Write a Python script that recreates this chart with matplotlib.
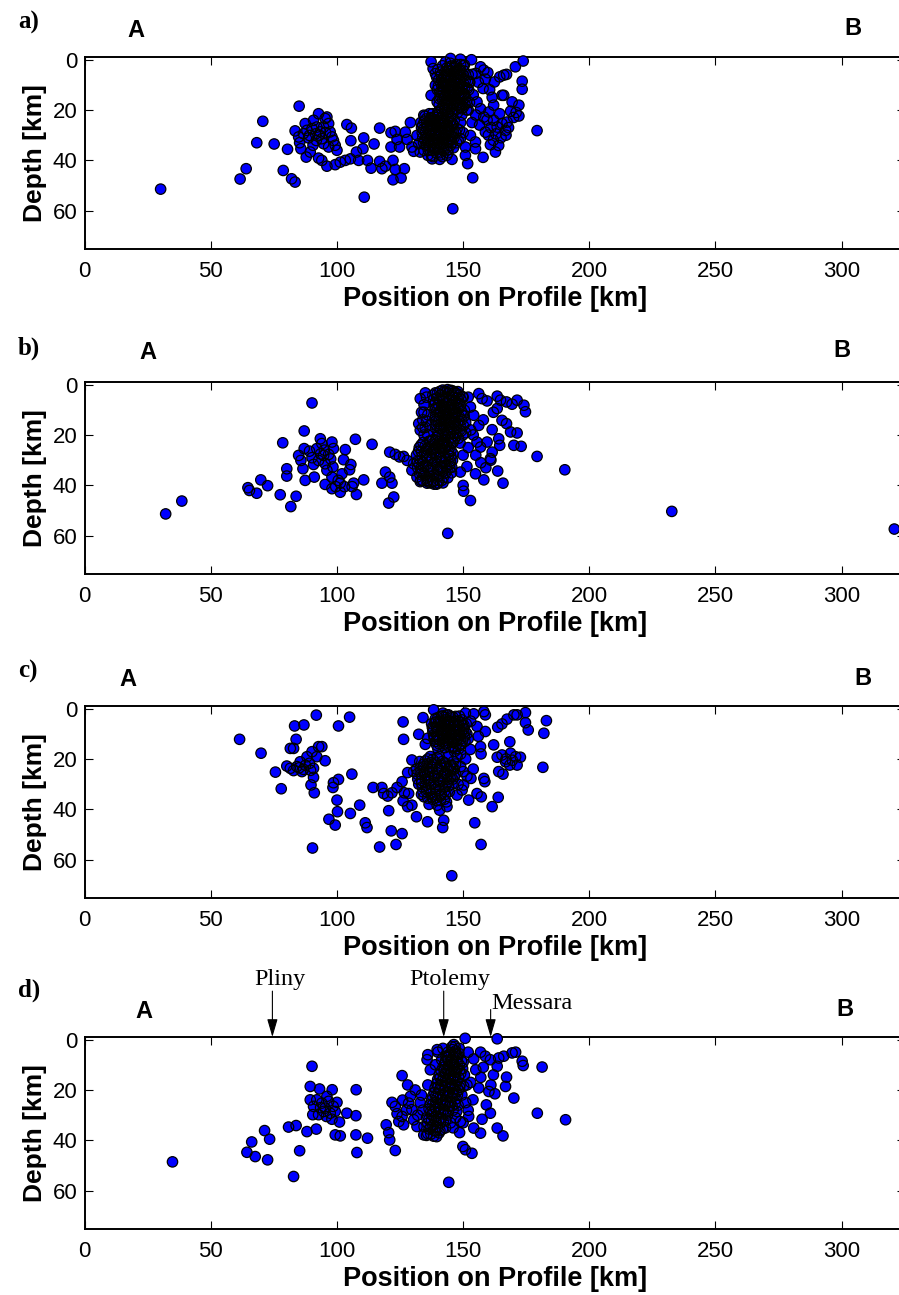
import numpy as np
import matplotlib
matplotlib.use("Agg")
import matplotlib.pyplot as plt

plt.rcParams['font.family'] = ['Liberation Sans', 'DejaVu Sans']

# earthquake hypocentres: (position on profile [km], depth [km])
quakes_a = [
    (30.1, 51.4), (61.6, 47.4), (64.0, 43.3), (68.2, 33.0), (70.6, 24.5), (75.1, 33.5), (78.7, 44.0),
    (80.4, 35.6), (82.0, 47.3), (83.4, 48.6), (85.0, 18.5),
    (83.4, 28.3), (84.8, 30.7), (85.2, 33.0), (85.7, 35.4), (87.4, 25.4), (88.1, 28.1), (88.7, 31.1),
    (87.8, 38.7), (89.4, 36.7), (90.5, 34.0), (90.7, 24.1), (92.0, 26.8), (92.7, 21.5), (93.4, 28.7),
    (94.0, 31.4), (94.7, 26.8), (95.3, 23.4), (96.0, 22.8), (96.7, 25.4), (97.3, 28.7), (98.0, 30.7),
    (98.6, 32.1), (99.3, 34.0), (100.0, 36.0), (92.7, 39.1), (94.0, 40.0), (96.0, 42.3), (91.8, 32.1),
    (90.1, 27.4), (86.7, 29.4), (89.1, 30.1), (94.7, 33.4), (96.7, 34.7), (93.0, 30.0), (95.5, 29.0),
    (91.5, 29.5),
    (99.3, 41.7), (101.3, 40.7), (103.3, 40.0), (105.3, 39.4), (107.7, 36.7), (108.6, 40.0), (103.9, 25.8),
    (105.7, 27.2), (105.5, 32.2), (110.6, 31.1), (110.3, 35.4), (112.1, 40.0), (113.5, 43.1), (114.7, 33.5),
    (110.8, 54.6), (116.9, 27.2), (116.9, 40.4), (117.8, 43.3), (119.2, 42.3), (122.2, 40.0), (123.1, 43.6),
    (126.7, 43.3), (122.2, 47.7), (125.4, 47.0), (121.4, 29.0), (123.1, 28.5), (121.4, 34.7), (123.8, 31.7),
    (124.8, 34.7), (127.1, 28.8), (127.8, 31.7), (129.1, 25.0), (129.7, 34.7), (130.4, 36.4), (131.7, 30.1),
    (132.4, 33.4), (133.0, 36.7), (134.4, 22.1), (137.7, 39.4), (140.7, 39.6), (145.6, 39.6), (145.9, 59.2),
    (150.9, 38.0), (151.8, 41.3), (153.8, 46.9), (157.9, 38.8),
    (137.3, 0.9), (138.1, 3.6), (139.0, 5.6), (137.3, 14.2), (139.0, 10.2), (139.7, 16.8), (145.0, -0.4),
    (148.9, -0.1), (153.3, 0.1), (143.6, 3.3), (147.3, 2.9), (150.5, 2.2), (153.5, 5.9), (156.9, 2.9),
    (158.2, 4.2), (159.8, 5.2), (157.9, 11.5), (158.8, 7.8), (162.4, 8.9), (164.5, 6.9), (166.1, 6.2),
    (167.2, 5.9), (170.7, 2.9), (173.8, 0.6), (173.4, 8.6), (173.4, 11.8), (165.4, 14.2), (166.1, 14.2),
    (162.1, 18.1), (169.4, 16.8), (172.1, 18.1), (172.1, 22.4), (168.8, 20.5), (164.5, 21.5), (155.5, 16.8),
    (156.9, 19.5), (158.2, 22.8), (160.2, 20.8), (162.1, 24.1), (163.5, 26.8), (165.4, 25.4), (166.8, 28.1),
    (167.4, 24.8), (158.8, 28.8), (160.8, 33.8), (162.8, 36.7), (164.1, 34.1), (179.3, 28.2), (154.9, 32.7),
    (152.9, 30.1), (150.9, 34.7), (148.9, 31.4), (147.6, 27.4), (154.9, 35.4),
    (159.5, 24.0), (161.0, 27.0), (163.0, 29.5), (165.0, 31.0), (167.0, 30.0), (168.0, 27.0), (170.0, 23.0),
    (171.0, 21.0), (160.0, 30.0), (162.0, 32.0), (156.5, 26.0), (155.0, 22.0), (153.5, 25.0), (152.0, 20.0),
    (154.0, 14.0), (156.0, 9.0), (155.0, 5.5), (152.5, 9.0), (160.5, 12.0), (161.5, 15.0),
    # dense upper swarm
    (139.5, 7.0), (140.2, 10.5), (140.8, 13.0), (141.5, 8.0), (141.9, 16.0), (142.3, 11.0), (142.8, 5.0),
    (143.1, 14.0), (143.6, 18.0), (144.0, 9.0), (144.4, 12.5), (144.8, 6.0), (145.2, 16.0), (145.6, 20.0),
    (146.0, 10.0), (146.3, 3.5), (146.7, 13.5), (147.1, 7.5), (147.5, 18.0), (147.9, 11.0), (148.3, 15.0),
    (148.6, 4.5), (149.0, 9.0), (149.4, 13.0), (149.8, 17.5), (150.2, 6.5), (150.6, 11.0), (151.0, 15.0),
    (151.4, 20.0), (151.8, 8.5), (142.0, 19.0), (143.9, 21.0), (145.0, 8.0), (146.5, 17.0), (147.8, 21.0),
    (148.8, 19.0), (150.0, 2.5), (141.0, 5.0), (144.6, 3.0), (149.5, 22.0), (152.2, 12.0), (152.5, 17.0),
    (140.5, 18.0), (143.5, 7.0), (146.8, 9.0), (145.5, 12.0), (148.0, 7.0), (150.5, 14.0), (142.6, 15.0),
    (144.2, 17.5), (147.3, 2.0),
    (139.8, 12.0), (140.0, 4.0), (140.6, 15.5), (141.2, 9.5), (141.6, 12.5), (141.8, 2.5), (142.4, 7.0),
    (142.9, 17.0), (143.3, 10.0), (143.7, 4.5), (144.1, 14.5), (144.6, 19.5), (145.0, 10.5), (145.3, 4.5),
    (145.7, 14.0), (146.1, 18.5), (146.4, 6.0), (146.9, 15.5), (147.2, 10.0), (147.6, 13.0), (147.9, 4.5),
    (148.2, 17.0), (148.5, 12.0), (148.9, 6.0), (149.2, 15.5), (149.6, 10.5), (150.0, 19.0), (150.3, 13.5),
    (150.8, 8.5), (151.2, 17.0), (151.6, 11.5), (152.0, 6.0), (140.3, 8.0), (142.7, 20.0), (145.9, 21.5),
    (149.0, 2.0), (143.0, 1.0), (141.4, 19.5), (144.9, 1.5), (152.6, 9.0),
    (141.3, 6.3), (141.7, 10.8), (142.1, 14.2), (142.5, 17.8), (142.9, 8.4), (143.3, 12.1), (143.6, 15.6),
    (144.0, 6.7), (144.3, 10.2), (144.7, 13.9), (145.1, 17.2), (145.4, 7.1), (145.8, 10.9), (146.1, 14.6),
    (146.5, 4.8), (146.9, 11.8), (147.2, 16.3), (147.6, 5.9), (148.0, 9.3), (148.4, 13.4), (148.7, 17.9),
    (149.1, 7.4), (149.5, 11.2), (149.9, 15.9), (150.3, 9.8), (150.7, 17.8), (142.2, 9.6), (143.9, 19.4),
    (145.3, 2.6), (146.2, 8.5), (147.4, 19.7), (148.9, 4.1), (150.4, 4.6), (144.5, 16.4), (141.0, 14.6),
    (143.2, 5.8), (147.9, 14.2), (149.3, 19.5), (146.0, 12.2), (144.9, 12.0),
    # dense lower swarm
    (133.2, 25.0), (133.8, 29.0), (134.3, 33.0), (134.9, 22.5), (135.4, 27.0), (135.8, 31.0), (136.2, 36.0),
    (136.7, 24.0), (137.1, 28.5), (137.5, 33.0), (137.9, 21.5), (138.3, 26.0), (138.7, 30.0), (139.0, 35.0),
    (139.4, 23.0), (139.8, 27.5), (140.2, 32.0), (140.6, 37.0), (141.0, 25.0), (141.4, 29.0), (141.8, 33.5),
    (142.2, 22.0), (142.6, 27.0), (143.0, 31.0), (143.4, 35.0), (143.8, 24.5), (144.2, 28.5), (144.6, 32.5),
    (145.0, 22.5), (145.4, 26.5), (145.8, 30.5), (146.2, 35.0), (136.0, 38.0), (138.0, 38.5), (134.5, 36.0),
    (137.8, 23.5), (140.0, 21.0), (143.0, 20.0), (146.5, 24.0), (147.0, 29.0), (148.0, 32.0), (149.0, 25.0),
    (150.0, 29.0), (135.5, 34.0), (139.5, 31.0), (141.2, 35.5), (144.0, 37.0), (142.0, 24.0), (139.0, 28.0),
    (133.5, 27.0), (134.0, 31.0), (134.6, 24.5), (135.1, 29.0), (135.6, 25.0), (136.0, 33.0), (136.5, 28.0),
    (136.9, 31.5), (137.3, 26.5), (137.7, 36.0), (138.1, 31.5), (138.5, 24.0), (138.9, 33.0), (139.2, 26.0),
    (139.6, 29.5), (140.0, 35.0), (140.4, 25.5), (140.8, 30.5), (141.2, 23.0), (141.6, 27.0), (142.0, 31.5),
    (142.4, 36.0), (142.8, 24.5), (143.2, 29.0), (143.6, 33.0), (144.0, 26.5), (144.4, 30.5), (144.8, 24.5),
    (145.2, 28.5), (145.6, 33.0), (146.0, 26.0), (146.4, 31.0), (147.4, 33.0), (148.5, 28.0), (136.6, 21.5),
    (139.8, 22.0), (143.5, 38.0), (137.5, 38.0), (134.0, 26.0), (141.8, 38.5),
    (134.2, 27.8), (134.8, 31.6), (135.3, 23.6), (135.9, 26.4), (136.4, 29.7), (136.8, 34.4), (137.2, 23.1),
    (137.7, 27.7), (138.2, 32.6), (138.6, 22.8), (139.1, 29.2), (139.5, 33.9), (139.9, 24.6), (140.4, 28.4),
    (140.8, 33.3), (141.3, 26.2), (141.7, 31.1), (142.1, 35.1), (142.5, 25.4), (142.9, 29.8), (143.3, 26.2),
    (143.7, 31.6), (144.1, 23.7), (144.5, 27.4), (144.9, 34.1), (145.3, 31.7), (145.7, 25.3), (136.1, 31.9),
    (138.4, 35.3), (140.1, 30.1), (142.3, 33.2), (143.9, 35.7), (137.5, 30.3), (139.3, 37.0), (141.1, 37.8),
    (135.0, 33.9), (146.1, 29.1), (138.8, 25.3), (141.9, 22.9), (144.3, 31.8),
]

quakes_b = [
    (32.1, 51.3), (38.5, 46.2), (64.7, 40.9), (65.3, 42.0), (68.2, 43.1), (69.8, 37.8), (72.5, 40.1),
    (77.5, 43.7), (78.5, 23.1), (80.1, 33.4), (80.1, 36.3), (81.7, 48.4), (83.8, 44.3), (90.1, 7.3),
    (87.0, 18.4),
    (84.8, 28.1), (85.7, 30.1), (86.5, 33.4), (87.4, 38.0), (87.0, 25.4), (89.1, 26.4), (90.1, 29.0),
    (90.7, 31.7), (91.0, 36.7), (93.4, 21.5), (94.0, 23.4), (94.7, 28.1), (92.7, 30.1), (95.3, 31.4),
    (96.0, 34.0), (98.0, 22.8), (98.6, 25.4), (98.4, 32.7), (98.0, 36.7), (95.3, 39.6), (98.0, 41.3),
    (101.3, 42.7), (102.0, 35.4), (103.3, 25.8), (102.6, 29.8), (105.5, 31.7), (105.0, 33.8), (106.6, 39.1),
    (107.7, 43.6), (110.6, 37.8), (107.3, 21.7), (113.9, 23.7), (101.3, 39.1), (96.7, 27.7), (92.0, 25.4),
    (93.5, 27.5), (95.0, 26.0), (97.5, 29.5), (100.5, 38.0), (103.0, 40.5), (99.5, 40.5), (106.0, 40.5),
    (117.8, 39.1), (119.2, 34.7), (120.9, 36.7), (121.8, 39.1), (120.5, 47.0), (122.5, 44.6), (120.9, 26.8),
    (123.1, 27.7), (124.8, 28.7), (126.4, 28.5), (127.8, 30.1), (130.4, 31.4), (129.7, 34.0), (131.7, 36.7),
    (133.3, 38.0), (135.7, 39.1), (138.3, 38.3), (132.4, 15.5), (133.0, 18.1), (133.0, 5.6), (135.0, 3.3),
    (139.0, 3.3),
    (156.2, 3.6), (157.5, 5.6), (159.5, 6.5), (163.5, 4.6), (164.8, 6.2), (167.2, 6.9), (169.4, 7.8),
    (171.4, 6.2), (174.7, 10.8), (174.1, 8.2), (163.5, 9.5), (165.4, 14.2), (167.2, 15.5), (161.5, 17.9),
    (168.8, 18.8), (171.4, 19.2), (156.2, 16.2), (154.2, 12.2), (152.9, 8.9), (155.5, 22.8), (156.9, 24.8),
    (159.5, 22.8), (161.5, 26.8), (160.8, 29.4), (164.1, 21.5), (164.5, 24.1), (170.1, 24.1), (173.0, 24.5),
    (179.3, 28.5), (190.3, 33.8), (148.9, 34.7), (151.5, 32.5), (154.9, 35.4), (158.2, 37.8), (163.7, 34.3),
    (165.8, 39.1), (150.0, 40.0), (150.2, 42.3), (152.9, 46.0), (143.9, 59.0), (232.7, 50.3), (320.9, 57.3),
    (153.0, 18.0), (152.0, 25.0), (155.0, 28.0), (157.0, 31.0), (159.0, 33.0), (161.0, 30.0), (150.0, 28.0),
    (151.0, 15.0), (152.0, 5.0), (154.0, 20.0), (158.0, 14.0), (162.0, 11.0),
    # dense upper swarm
    (138.0, 4.2), (138.6, 8.1), (139.1, 12.3), (139.4, 16.2), (140.1, 20.4), (140.6, 5.8), (141.1, 10.2),
    (141.4, 14.3), (142.1, 18.1), (142.4, 22.2), (143.1, 3.1), (143.4, 7.2), (144.1, 11.3), (144.6, 15.1),
    (144.9, 19.2), (145.6, 23.1), (146.1, 5.2), (146.4, 9.1), (147.1, 13.2), (147.4, 17.1), (148.1, 21.3),
    (148.6, 4.1), (148.9, 8.2), (149.6, 12.1), (150.1, 16.3), (144.2, 3.4), (146.0, 2.6), (147.2, 3.6),
    (145.2, 6.3), (142.2, 5.2), (140.2, 14.6), (141.2, 17.3), (143.2, 13.2), (144.8, 9.4), (146.8, 11.2),
    (148.2, 14.3), (149.2, 18.4), (147.6, 7.1), (143.8, 20.3), (141.8, 24.2), (139.2, 9.3), (150.5, 10.2),
    (151.0, 19.1), (148.8, 23.2), (146.2, 19.3), (145.6, 13.4), (142.6, 9.2), (140.8, 2.7),
    (138.3, 6.0), (138.8, 10.0), (139.2, 14.5), (139.7, 18.0), (139.8, 3.5), (140.3, 8.0), (140.7, 12.0),
    (141.2, 16.0), (141.7, 20.0), (141.8, 6.5), (142.3, 11.0), (142.8, 15.0), (142.9, 19.5), (143.3, 5.0),
    (143.7, 9.0), (144.2, 13.0), (144.6, 17.0), (145.1, 21.0), (145.3, 8.0), (145.8, 11.0), (146.3, 15.0),
    (146.6, 21.5), (146.8, 6.5), (147.3, 11.0), (147.8, 15.5), (148.3, 9.5), (148.6, 18.0), (149.1, 6.0),
    (149.4, 14.0), (149.9, 20.0), (150.4, 12.5), (143.5, 24.0), (140.8, 22.5), (139.5, 21.0), (144.8, 2.5),
    (142.5, 2.8), (147.9, 2.8), (150.0, 5.0),
    (139.6, 5.3), (140.0, 9.4), (140.5, 13.2), (140.9, 17.4), (141.3, 4.1), (141.6, 8.3), (142.0, 12.6),
    (142.5, 16.6), (142.8, 20.8), (143.0, 9.9), (143.5, 14.2), (143.9, 18.2), (144.3, 6.2), (144.5, 10.3),
    (145.0, 14.0), (145.3, 17.8), (145.6, 4.3), (146.0, 8.1), (146.5, 12.4), (146.9, 16.1), (147.2, 20.3),
    (147.5, 5.3), (147.9, 9.1), (148.4, 12.7), (148.8, 16.4), (149.3, 10.6), (149.7, 4.8), (140.3, 19.3),
    (142.0, 22.8), (144.0, 22.5), (146.0, 22.9), (138.8, 13.8), (139.0, 7.3), (141.9, 2.2), (143.8, 2.0),
    (145.2, 2.3), (146.7, 3.1), (144.0, 16.0), (142.3, 14.2), (146.3, 17.6), (143.3, 11.9), (145.5, 9.9),
    (147.5, 18.9), (148.3, 7.6), (140.5, 11.0),
    # dense lower swarm
    (131.5, 28.0), (132.0, 33.0), (132.6, 25.0), (133.1, 30.0), (133.6, 35.0), (134.1, 23.0), (134.7, 27.0),
    (135.2, 32.0), (135.7, 37.0), (136.2, 25.0), (136.8, 29.0), (137.3, 34.0), (137.8, 22.0), (138.4, 27.0),
    (138.9, 31.0), (139.4, 36.0), (139.9, 24.0), (140.5, 29.0), (141.0, 33.0), (141.5, 38.0), (142.0, 26.0),
    (142.6, 31.0), (143.1, 35.0), (143.6, 24.0), (144.2, 28.0), (144.7, 33.0), (145.2, 26.0), (145.8, 30.0),
    (134.0, 38.0), (137.0, 39.0), (139.5, 39.5), (136.0, 20.0), (135.0, 17.0), (134.0, 14.0), (133.5, 11.0),
    (134.5, 8.0), (136.0, 12.0), (135.5, 5.0), (137.0, 16.0),
    (131.8, 30.5), (132.3, 26.5), (132.8, 35.5), (133.3, 24.0), (133.8, 28.5), (134.3, 32.5), (134.9, 36.0),
    (135.4, 25.5), (135.9, 29.5), (136.4, 34.0), (136.9, 22.5), (137.4, 27.0), (137.9, 31.5), (138.4, 36.0),
    (138.9, 25.0), (139.4, 29.0), (139.9, 33.5), (140.4, 38.0), (140.9, 26.5), (141.4, 30.5), (141.9, 34.5),
    (142.4, 23.5), (142.9, 28.5), (143.4, 32.5), (143.9, 37.0), (144.4, 25.5), (144.9, 30.5), (145.4, 35.0),
    (146.0, 27.5), (133.0, 38.5), (136.0, 38.5), (138.5, 39.5), (142.0, 39.0), (134.5, 20.0), (135.5, 14.5),
    (134.5, 11.0), (134.0, 17.0),
    (133.5, 26.7), (134.0, 30.8), (134.4, 35.2), (135.0, 24.3), (135.5, 28.2), (136.0, 32.8), (136.6, 36.3),
    (137.1, 24.7), (137.6, 29.3), (138.1, 33.6), (138.6, 23.8), (139.1, 27.6), (139.6, 31.8), (140.1, 36.4),
    (140.6, 25.3), (141.1, 28.7), (141.6, 32.8), (142.1, 36.9), (142.6, 24.9), (143.1, 29.6), (143.6, 33.9),
    (144.1, 26.8), (144.6, 31.6), (145.1, 28.5), (135.8, 38.0), (137.9, 38.6), (140.0, 39.0), (136.5, 22.5),
    (139.0, 22.2), (141.3, 23.6), (132.5, 31.5), (133.2, 33.3), (145.5, 32.8), (138.0, 25.9), (140.3, 33.8),
]

quakes_c = [
    (61.4, 12.2), (69.9, 17.7), (75.6, 25.2), (77.9, 31.8), (83.2, 6.9), (86.9, 6.5), (91.8, 2.6),
    (83.8, 12.2), (81.5, 15.8), (82.8, 15.8),
    (80.1, 22.8), (81.5, 23.7), (82.8, 24.6), (84.1, 23.0), (85.4, 21.1), (86.7, 24.1), (88.1, 19.1),
    (89.1, 21.7), (90.1, 17.1), (90.7, 23.7), (92.0, 19.1), (92.7, 15.1), (94.0, 15.1), (95.3, 20.7),
    (90.7, 27.3), (89.7, 30.3), (91.0, 33.4), (86.1, 25.0), (87.5, 22.5), (89.5, 24.5), (85.0, 23.5),
    (100.6, 6.9), (105.0, 3.4), (98.6, 29.4), (98.4, 31.3), (100.6, 28.1), (105.9, 26.0),
    (100.0, 36.3), (100.2, 40.9), (96.8, 43.9), (99.3, 46.2), (105.3, 41.6), (109.0, 38.3), (111.2, 45.3),
    (111.9, 47.2), (90.3, 55.3),
    (114.3, 31.3), (117.8, 31.3), (118.5, 33.7), (120.1, 34.7), (121.8, 33.4), (120.5, 40.5), (121.5, 48.5),
    (125.8, 49.6), (116.9, 54.9), (123.4, 53.9),
    (126.2, 5.3), (126.4, 12.2), (123.8, 31.3), (125.8, 29.0), (126.7, 33.4), (128.4, 33.7), (129.7, 20.4),
    (128.0, 25.4), (130.4, 25.0), (126.2, 36.6), (128.0, 38.9), (129.7, 38.3), (131.5, 42.9), (135.9, 44.9),
    (132.4, 10.2), (134.1, 3.6), (135.0, 14.2), (135.9, 11.8), (138.3, 0.5), (142.0, 1.8),
    (139.7, 38.3), (140.7, 40.3), (142.3, 44.3), (141.9, 47.2), (143.6, 38.9), (145.5, 66.3),
    (150.9, 1.8), (154.2, 2.1), (158.2, 1.2), (158.8, 2.5), (155.5, 7.1), (158.8, 9.1), (152.9, 16.2),
    (156.9, 15.1), (157.1, 18.0), (162.1, 14.4), (168.5, 13.2),
    (163.7, 7.4), (165.4, 6.1), (167.4, 4.2), (170.1, 2.5), (171.4, 2.5), (174.7, 1.6), (174.7, 5.6),
    (175.8, 8.5), (183.0, 4.8), (182.0, 9.8), (181.6, 23.3),
    (163.5, 19.3), (165.4, 18.4), (166.8, 21.1), (168.8, 17.7), (170.8, 19.1), (172.7, 19.3), (171.4, 22.4),
    (164.1, 25.0), (165.8, 26.0), (168.5, 22.4), (167.0, 20.0), (169.5, 20.5),
    (151.5, 26.8), (153.1, 27.7), (158.2, 27.7), (158.6, 29.0), (155.5, 33.7), (157.2, 35.0), (152.2, 36.3),
    (163.9, 35.2), (161.5, 38.9), (154.6, 45.3), (157.1, 53.9),
    (150.2, 30.3), (147.6, 34.3), (149.6, 32.3),
    (152.0, 12.0), (153.0, 5.0), (156.0, 11.0), (151.0, 20.0), (150.0, 25.0), (154.0, 24.0), (147.0, 22.0),
    (149.0, 18.0),
    # dense upper swarm
    (137.5, 6.0), (138.0, 9.0), (138.5, 12.0), (139.0, 4.0), (139.5, 7.5), (140.0, 11.0), (140.5, 14.0),
    (141.0, 5.0), (141.5, 8.5), (142.0, 12.0), (142.5, 3.5), (143.0, 7.0), (143.5, 10.0), (144.0, 13.5),
    (144.5, 5.0), (145.0, 8.5), (145.5, 12.0), (146.0, 3.5), (146.5, 7.0), (147.0, 10.5), (147.5, 14.0),
    (148.0, 5.0), (148.5, 8.5), (149.0, 12.0), (149.5, 4.5), (150.0, 8.0), (150.5, 11.0), (145.8, 15.0),
    (142.8, 15.5), (139.5, 14.5), (151.2, 6.0), (148.2, 16.0), (144.2, 2.5), (146.6, 17.0), (147.6, 19.0),
    (137.8, 7.5), (138.3, 10.5), (138.8, 5.5), (139.2, 13.0), (139.7, 9.0), (140.2, 5.5), (140.7, 12.5),
    (141.2, 7.0), (141.7, 10.5), (141.9, 14.5), (142.2, 5.0), (142.7, 9.0), (143.2, 12.5), (143.7, 5.5),
    (144.2, 9.0), (144.7, 11.5), (145.2, 6.5), (145.7, 10.0), (146.2, 13.5), (146.7, 5.0), (147.2, 8.5),
    (147.7, 12.0), (148.2, 6.5), (148.7, 10.5), (149.2, 14.0), (149.7, 6.5), (150.2, 9.5), (150.7, 13.0),
    (141.5, 3.0), (144.5, 15.0), (147.0, 16.0), (140.0, 16.0), (143.5, 2.5), (148.5, 3.0), (151.5, 10.0),
    (138.2, 7.8), (138.7, 11.2), (139.3, 5.3), (139.9, 8.4), (140.4, 12.1), (140.8, 6.1), (141.4, 9.7),
    (141.8, 13.2), (142.3, 7.6), (142.7, 11.1), (143.3, 4.4), (143.8, 8.3), (144.3, 11.8), (144.8, 6.7),
    (145.3, 10.2), (145.8, 13.4), (146.3, 5.6), (146.8, 9.3), (147.3, 12.8), (147.8, 7.2), (148.3, 10.8),
    (148.8, 5.6), (149.3, 9.3), (149.8, 12.6), (150.3, 6.6), (140.0, 3.6), (145.0, 3.3), (147.0, 3.1),
    (143.0, 14.0), (146.0, 15.6), (148.8, 14.6), (139.5, 10.3), (142.0, 3.0), (150.8, 9.0), (144.0, 7.0),
    # dense lower swarm
    (131.5, 24.0), (132.0, 28.0), (132.8, 21.0), (133.3, 26.0), (133.8, 31.0), (134.4, 23.0), (135.0, 28.0),
    (135.5, 33.0), (136.0, 20.0), (136.6, 25.0), (137.1, 30.0), (137.6, 35.0), (138.1, 22.0), (138.7, 27.0),
    (139.2, 32.0), (139.7, 19.5), (140.3, 24.0), (140.8, 29.0), (141.3, 34.0), (141.8, 21.0), (142.4, 26.0),
    (142.9, 31.0), (143.4, 23.0), (144.0, 28.0), (144.5, 33.0), (145.0, 25.0), (145.6, 30.0), (146.1, 21.0),
    (134.5, 35.0), (136.5, 38.0), (139.5, 36.5), (142.5, 36.0), (147.0, 26.0), (148.0, 30.0), (149.0, 23.0),
    (144.0, 19.0),
    (131.8, 26.0), (132.4, 30.0), (133.0, 23.5), (133.5, 28.5), (134.1, 33.0), (134.7, 25.5), (135.2, 30.5),
    (135.8, 22.0), (136.3, 27.5), (136.8, 32.5), (137.3, 21.5), (137.9, 25.5), (138.4, 29.5), (138.9, 34.0),
    (139.4, 24.0), (140.0, 28.0), (140.5, 32.5), (141.0, 22.5), (141.6, 27.0), (142.1, 31.5), (142.6, 21.5),
    (143.1, 25.5), (143.7, 29.5), (144.2, 24.0), (144.8, 27.5), (145.3, 22.5), (145.9, 28.0), (146.5, 24.0),
    (138.0, 36.0), (141.0, 36.5), (133.5, 34.0), (137.0, 19.0), (140.5, 19.0), (143.0, 34.0),
    (133.0, 25.0), (133.6, 29.6), (134.2, 22.2), (134.9, 26.6), (135.4, 31.8), (136.1, 24.1), (136.6, 28.6),
    (137.2, 33.6), (137.6, 23.3), (138.3, 26.6), (138.8, 31.1), (139.3, 21.6), (139.9, 25.6), (140.4, 30.4),
    (140.9, 34.8), (141.4, 23.6), (142.0, 28.3), (142.6, 32.8), (143.1, 22.0), (143.6, 26.6), (144.2, 30.8),
    (144.7, 22.6), (145.2, 26.9), (145.8, 23.6), (136.0, 35.5), (139.0, 35.5), (135.0, 20.8), (138.0, 20.2),
    (143.4, 37.0), (146.5, 27.0),
]

quakes_d = [
    (34.8, 48.5), (64.3, 44.7), (66.2, 40.6), (67.6, 46.4), (71.3, 36.1), (73.3, 39.5), (72.5, 47.7),
    (80.8, 34.7), (83.8, 34.1), (85.2, 44.1), (82.8, 54.3), (88.1, 36.5), (91.8, 35.5),
    (90.1, 10.6), (89.4, 18.6), (93.1, 19.6), (98.1, 19.9), (107.6, 19.9), (107.5, 30.2), (103.9, 29.2),
    (107.5, 37.8), (107.9, 44.8), (112.1, 39.1), (99.3, 37.8), (101.3, 38.2), (100.0, 24.9),
    (89.4, 23.9), (90.7, 26.5), (92.0, 23.9), (92.7, 29.8), (94.0, 25.2), (95.3, 27.2), (96.0, 22.5),
    (97.3, 29.2), (98.0, 31.6), (99.3, 28.5), (101.0, 32.7), (96.7, 24.5), (90.4, 29.8), (94.7, 28.5),
    (93.5, 27.0), (95.8, 30.5), (98.5, 26.5),
    (119.5, 33.8), (120.5, 36.9), (120.9, 39.8), (123.1, 44.0), (121.8, 24.9), (123.8, 29.4), (125.8, 14.3),
    (126.4, 33.8), (128.4, 25.2), (129.1, 22.5), (130.4, 31.8), (129.7, 27.8), (131.7, 34.5), (134.4, 37.8),
    (135.7, 8.0), (123.1, 26.5), (125.8, 30.5), (127.5, 28.0), (124.5, 32.5),
    (150.8, -0.5), (163.5, -0.3), (139.7, 4.0),
    (154.2, 7.7), (156.9, 5.0), (158.8, 6.6), (160.8, 8.0), (163.5, 10.6), (164.1, 7.3), (166.1, 6.6),
    (169.4, 5.3), (170.8, 5.0), (173.4, 8.6), (173.8, 10.3), (181.3, 10.9), (167.2, 14.9), (166.8, 18.6),
    (170.1, 23.2), (179.4, 29.2), (190.6, 31.8),
    (156.2, 19.2), (160.2, 20.6), (162.6, 21.5), (159.2, 25.9), (160.8, 29.2), (153.9, 23.9), (163.5, 35.1),
    (165.8, 38.2), (157.5, 31.6), (156.9, 37.1), (154.2, 35.1), (152.2, 30.5), (148.9, 32.5), (148.6, 36.9),
    (149.9, 42.4), (150.9, 43.7), (153.5, 45.1), (144.3, 56.6),
    (152.0, 5.0), (155.0, 12.0), (153.0, 17.0), (157.0, 15.0), (151.0, 25.0), (152.0, 28.0), (158.0, 11.0),
    (162.0, 14.0), (161.0, 18.0), (150.0, 33.0), (147.0, 31.0), (146.0, 35.0), (133.0, 25.0), (132.0, 30.0),
    (131.0, 20.0), (128.0, 18.0), (126.0, 24.0), (136.0, 6.0), (140.0, 5.0), (142.0, 3.5),
    # dense swarm below Ptolemy
    (146.3, 2.0), (145.8, 4.0), (147.0, 4.5), (144.5, 6.0), (146.0, 7.0), (147.8, 7.0), (143.0, 8.5),
    (144.8, 9.0), (146.5, 10.0), (148.5, 10.0), (142.0, 11.0), (143.5, 12.0), (145.2, 12.5), (147.0, 13.0),
    (149.0, 13.5), (140.5, 14.0), (142.2, 15.0), (144.0, 15.5), (145.8, 16.0), (147.5, 16.5), (139.5, 17.5),
    (141.2, 18.0), (143.0, 18.5), (144.8, 19.0), (146.5, 19.5), (148.2, 20.0), (138.5, 21.0), (140.2, 21.5),
    (142.0, 22.0), (143.8, 22.5), (145.5, 23.0), (147.2, 23.5), (137.5, 24.0), (139.2, 25.0), (141.0, 25.5),
    (142.8, 26.0), (144.5, 26.5), (136.5, 27.5), (138.5, 28.5), (140.2, 29.0), (142.0, 29.5), (143.8, 30.0),
    (135.5, 31.0), (137.5, 32.0), (139.3, 32.5), (141.0, 33.0), (134.5, 34.5), (136.5, 35.5), (138.5, 36.0),
    (140.5, 37.0), (135.5, 38.0), (150.0, 9.0), (150.5, 14.0), (151.5, 18.0), (149.5, 22.0), (148.0, 26.0),
    (146.0, 28.0), (145.0, 33.0), (143.0, 35.0), (141.5, 8.0), (137.0, 12.0), (139.0, 10.0), (136.0, 18.0),
    (133.5, 22.0), (134.0, 28.0),
    (146.8, 2.8), (145.2, 5.2), (146.9, 5.8), (148.3, 5.5), (143.8, 7.2), (145.5, 8.2), (147.2, 8.6),
    (149.3, 8.5), (142.7, 9.8), (144.2, 10.8), (145.9, 11.2), (147.7, 11.5), (141.3, 12.5), (142.9, 13.5),
    (144.6, 14.0), (146.3, 14.5), (148.2, 15.0), (139.9, 15.8), (141.6, 16.5), (143.4, 17.0), (145.2, 17.5),
    (146.9, 18.0), (148.8, 17.8), (138.9, 19.2), (140.7, 19.8), (142.4, 20.2), (144.2, 20.8), (145.9, 21.2),
    (147.7, 22.0), (137.9, 22.5), (139.6, 23.2), (141.4, 23.8), (143.2, 24.2), (145.0, 24.8), (146.8, 25.5),
    (136.9, 25.8), (138.8, 26.8), (140.6, 27.2), (142.4, 27.8), (144.2, 28.5), (137.5, 29.8), (139.3, 30.5),
    (141.2, 31.2), (143.0, 32.0), (136.0, 33.2), (138.0, 34.0), (139.9, 34.8), (141.8, 35.5), (137.2, 37.5),
    (139.5, 38.5), (148.5, 3.5), (149.8, 11.5), (150.2, 18.5), (147.5, 28.5),
    (145.5, 2.9), (147.5, 6.0), (144.0, 5.0), (146.5, 5.3), (143.2, 6.6), (145.9, 9.7), (144.0, 8.2),
    (147.8, 9.0), (142.5, 12.2), (144.1, 12.6), (146.6, 12.1), (148.6, 12.2), (140.9, 15.2), (143.0, 16.0),
    (144.9, 15.1), (147.0, 15.1), (148.6, 18.9), (140.0, 18.8), (142.0, 19.1), (144.0, 18.0), (145.8, 18.4),
    (147.3, 20.7), (139.1, 22.4), (141.0, 22.8), (143.0, 21.3), (144.8, 21.9), (146.5, 22.3), (138.0, 25.7),
    (140.0, 26.3), (142.0, 24.9), (143.8, 25.3), (145.6, 26.3), (137.2, 28.5), (139.2, 27.7), (141.1, 28.6),
    (143.0, 28.8), (136.4, 31.7), (138.5, 31.1), (140.3, 31.8), (142.1, 32.4), (137.2, 34.9), (139.1, 36.3),
    (140.8, 36.1), (136.0, 37.3), (138.3, 38.3),
]

panel_labels = ['a)', 'b)', 'c)', 'd)']
# A / B end-point labels (km, depth) per panel
a_marks = [(20.4, -11.5), (24.9, -12.8), (17.2, -11.6), (23.5, -11.1)]
b_marks = [(304.6, -12.3), (300.0, -13.6), (308.3, -11.9), (301.4, -11.9)]
# features marked above panel d
features = ['Pliny', 'Ptolemy', 'Messara']
feature_km = [74.4, 142.3, 160.9]

all_quakes = [quakes_a, quakes_b, quakes_c, quakes_d]

fig = plt.figure(figsize=(8.99, 12.95), dpi=100)
bottoms = [0.8080, 0.5570, 0.3068, 0.0512]
label_y = [0.9776, 0.7259, 0.4765, 0.2301]

for i, quakes in enumerate(all_quakes):
    ax = fig.add_axes([0.0942, bottoms[i], 0.9121, 0.1480])
    pts = np.array(quakes)
    # faces first, then all outlines on top so dense swarms turn dark
    ax.scatter(pts[:, 0], pts[:, 1], s=56, c='#0000ff', edgecolors='none',
               zorder=3, clip_on=False)
    ax.scatter(pts[:, 0], pts[:, 1], s=56, facecolors='none', edgecolors='black',
               linewidths=0.9, zorder=4, clip_on=False)
    ax.set_xlim(0, 325)
    ax.set_ylim(75, -1)
    ax.set_xticks([0, 50, 100, 150, 200, 250, 300])
    ax.set_yticks([0, 20, 40, 60])
    ax.tick_params(direction='in', length=6, width=0.8, top=True, right=True,
                   labelsize=16)
    ax.tick_params(axis='x', pad=9)
    ax.tick_params(axis='y', pad=5)
    for sp in ax.spines.values():
        sp.set_linewidth(1.4)
    ax.set_xlabel('Position on Profile [km]', fontsize=19.5, fontweight='bold', labelpad=3)
    ax.set_ylabel('Depth [km]', fontsize=19, fontweight='bold', labelpad=4)

    ax.text(a_marks[i][0], a_marks[i][1], 'A', fontsize=17, fontweight='bold',
            ha='center', va='center', clip_on=False)
    ax.text(b_marks[i][0], b_marks[i][1], 'B', fontsize=17, fontweight='bold',
            ha='center', va='center', clip_on=False)
    fig.text(0.020, label_y[i], panel_labels[i], fontsize=18, fontweight='bold',
             family='Liberation Serif', ha='left', va='baseline')

    if i == 3:
        arrow = dict(arrowstyle='-|>,head_length=0.55,head_width=0.16', color='black',
                     lw=0.8, shrinkA=0, shrinkB=0, mutation_scale=20)
        starts = [-19.2, -19.2, -11.9]
        for name, km, y0 in zip(features, feature_km, starts):
            ax.annotate('', xy=(km, -1), xytext=(km, y0), arrowprops=arrow,
                        annotation_clip=False)
        ax.text(77.5, -21.5, 'Pliny', family='Liberation Serif', fontsize=17.5,
                ha='center', va='baseline', clip_on=False)
        ax.text(144.6, -21.5, 'Ptolemy', family='Liberation Serif', fontsize=17.5,
                ha='center', va='baseline', clip_on=False)
        ax.text(161.1, -12.3, 'Messara', family='Liberation Serif', fontsize=17.5,
                ha='left', va='baseline', clip_on=False)

fig.savefig('out.png', dpi=100)
